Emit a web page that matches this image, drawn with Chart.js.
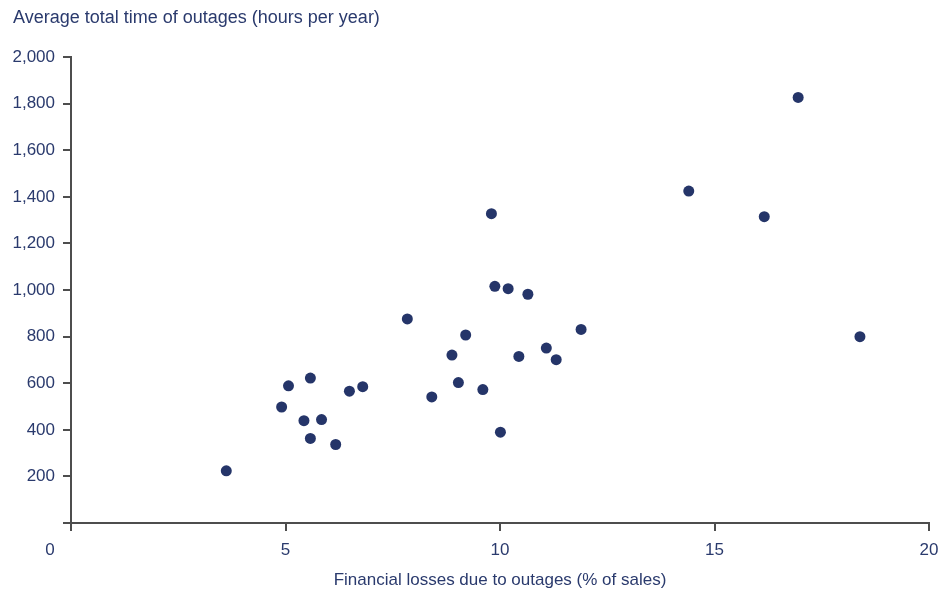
<!DOCTYPE html>
<html>
<head>
<meta charset="utf-8">
<script src="https://cdn.jsdelivr.net/npm/chart.js@4"></script>
<style>
  html, body { margin: 0; padding: 0; background: #fff; }
  #wrap { width: 945px; height: 591px; }
</style>
</head>
<body>
<div id="wrap"><canvas id="c" width="945" height="591"></canvas></div>
<script>
const lossesPct = [3.62, 4.91, 5.07, 5.43, 5.58, 5.58, 5.84, 6.17, 6.49, 6.80, 7.84, 8.41, 8.88, 9.03, 9.20, 9.60, 9.80, 9.88, 10.01, 10.19, 10.44, 10.65, 11.08, 11.31, 11.89, 14.40, 16.16, 16.95, 18.39];
const outageHours = [224, 498, 589, 439, 622, 363, 444, 337, 566, 585, 876, 541, 721, 603, 807, 573, 1328, 1016, 390, 1006, 715, 982, 751, 701, 831, 1425, 1315, 1827, 800];
const xTicks = [0, 5, 10, 15, 20];
const yTicks = [0, 200, 400, 600, 800, 1000, 1200, 1400, 1600, 1800, 2000];
const yTitle = 'Average total time of outages (hours per year)';
const xTitle = 'Financial losses due to outages (% of sales)';

const TEXT = '#2a3a6d';
const AXIS = '#4d4d4d';
const FONT = "'Liberation Sans Narrow', 'Liberation Sans', sans-serif";

const points = lossesPct.map((x, i) => ({ x: x, y: outageHours[i] }));

const zeroLabel = {
  id: 'zeroLabel',
  afterDraw(chart) {
    const xs = chart.scales.x;
    const ctx = chart.ctx;
    ctx.save();
    ctx.font = "17px " + FONT;
    ctx.fillStyle = TEXT;
    ctx.textAlign = 'center';
    ctx.textBaseline = 'middle';
    ctx.fillText('0', xs.getPixelForValue(0) - 21, 550);
    ctx.restore();
  }
};

new Chart(document.getElementById('c'), {
  type: 'scatter',
  data: {
    datasets: [{
      data: points,
      backgroundColor: '#253569',
      borderWidth: 0,
      pointRadius: 5.5,
      pointHoverRadius: 5.5
    }]
  },
  options: {
    responsive: false,
    animation: false,
    layout: { padding: { left: 13, right: 16, top: 0, bottom: 0 } },
    plugins: {
      legend: { display: false },
      tooltip: { enabled: false },
      title: {
        display: true,
        text: yTitle,
        align: 'start',
        color: TEXT,
        font: { family: FONT, size: 18, weight: 'normal', lineHeight: 1.2 },
        padding: { top: 7.5, bottom: 28 }
      }
    },
    scales: {
      x: {
        type: 'linear',
        min: 0, max: 20,
        afterBuildTicks(scale) { scale.ticks = xTicks.map(v => ({ value: v })); },
        afterFit(scale) { scale.height = 68; scale.paddingRight = 0; scale.paddingLeft = 0; },
        border: { display: true, color: AXIS, width: 2 },
        grid: { drawOnChartArea: false, drawTicks: true, tickLength: 8, color: AXIS, lineWidth: 2 },
        ticks: {
          color: TEXT,
          font: { family: FONT, size: 17 },
          padding: 9,
          maxRotation: 0,
          callback: v => v === 0 ? '' : String(v)
        },
        title: {
          display: true,
          text: xTitle,
          color: TEXT,
          font: { family: FONT, size: 17, lineHeight: 1.2 },
          padding: { top: 2, bottom: 0 }
        }
      },
      y: {
        type: 'linear',
        min: 0, max: 2000,
        afterBuildTicks(scale) { scale.ticks = yTicks.map(v => ({ value: v })); },
        afterFit(scale) { scale.width = 58; },
        border: { display: true, color: AXIS, width: 2 },
        grid: { drawOnChartArea: false, drawTicks: true, tickLength: 8, color: AXIS, lineWidth: 2 },
        ticks: {
          color: TEXT,
          font: { family: FONT, size: 17 },
          padding: 8,
          callback: v => v === 0 ? '' : v.toLocaleString('en-US')
        }
      }
    }
  },
  plugins: [zeroLabel]
});
</script>
</body>
</html>
